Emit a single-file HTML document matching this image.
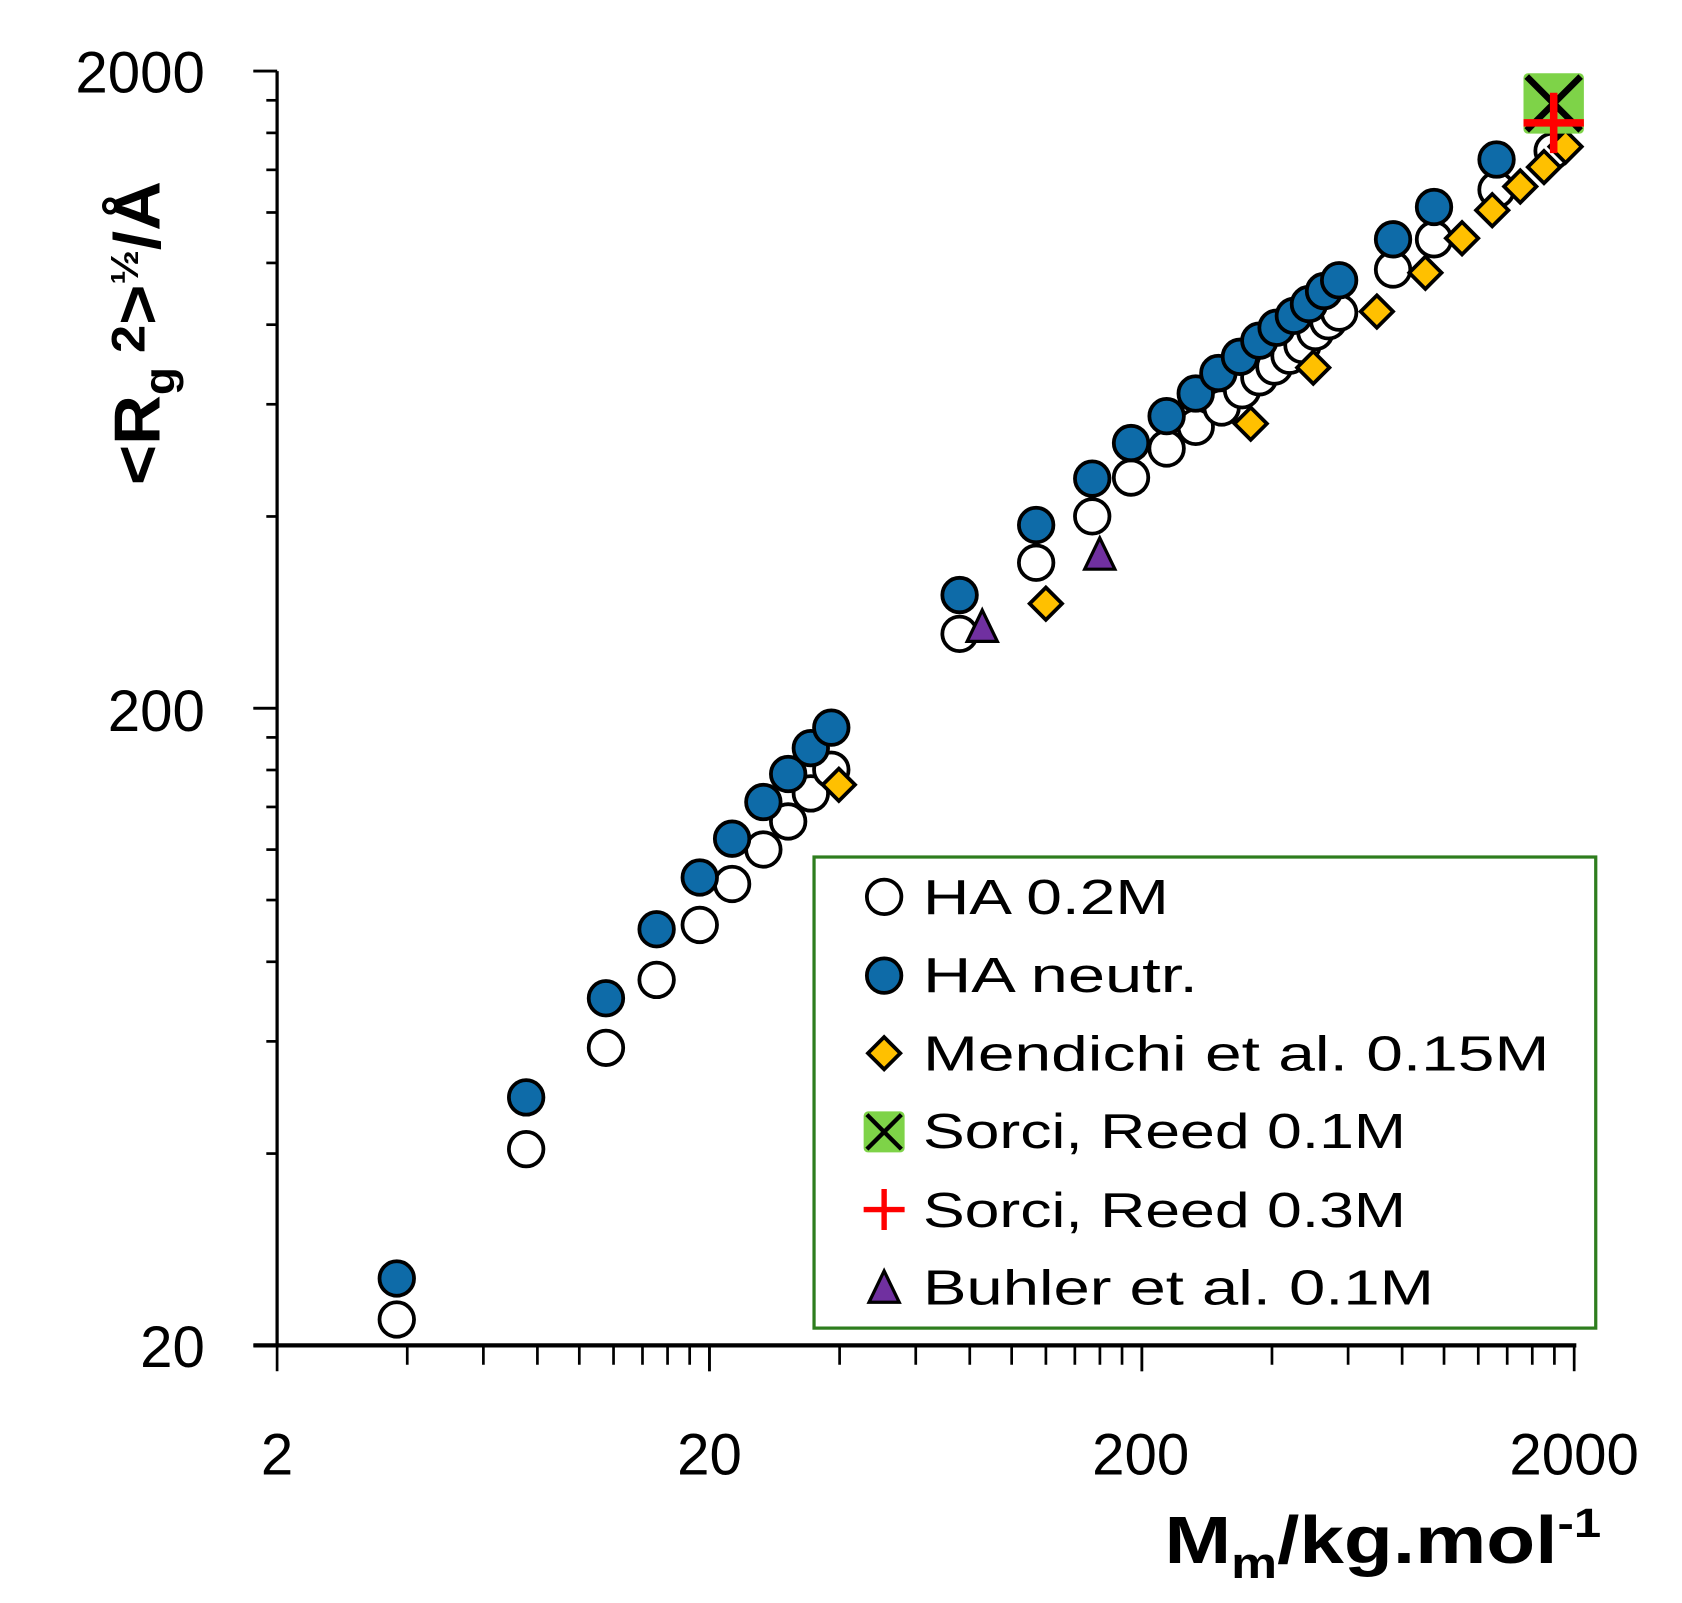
<!DOCTYPE html>
<html><head><meta charset="utf-8"><style>
html,body{margin:0;padding:0;background:#fff;}
svg{display:block;}
</style></head><body>
<svg id="s" width="1682" height="1603" viewBox="0 0 1560 1487" preserveAspectRatio="none" xmlns="http://www.w3.org/2000/svg" font-family="'Liberation Sans', sans-serif">
<rect width="1560" height="1487" fill="#fff"/>
<g id="ticks" stroke="#000" stroke-width="2.5"></g>
<line x1="257" y1="66" x2="257" y2="1250" stroke="#000" stroke-width="3"/>
<line x1="235" y1="1248" x2="1462" y2="1248" stroke="#000" stroke-width="4"/>
<g font-size="54" fill="#000" text-anchor="end">
<text x="190" y="86">2000</text>
<text x="190" y="678">200</text>
<text x="190" y="1268">20</text>
</g>
<g font-size="54" fill="#000" text-anchor="middle">
<text x="257" y="1368">2</text>
<text x="658" y="1368">20</text>
<text x="1058" y="1368">200</text>
<text x="1460" y="1368">2000</text>
</g>
<text x="1080" y="1450" font-size="62" font-weight="bold" textLength="405" lengthAdjust="spacingAndGlyphs">M<tspan font-size="40" dy="14">m</tspan><tspan dy="-14">/kg.mol</tspan><tspan font-size="38" dy="-24">-1</tspan></text>
<text transform="translate(148,450) rotate(-90)" font-size="60" font-weight="bold" textLength="282" lengthAdjust="spacingAndGlyphs">&lt;R<tspan font-size="40" dy="14">g</tspan><tspan font-size="44" dy="-28"> 2</tspan><tspan dy="14">&gt;</tspan><tspan font-size="36" dy="-20">½</tspan><tspan dy="20">/Å</tspan></text>
<g id="pts"></g>
<rect x="755" y="795" width="725" height="437" fill="#fff" stroke="#2e7d1e" stroke-width="3"/>
<g id="leg"></g>
<g font-size="46" fill="#000">
<text x="856" y="848" textLength="228" lengthAdjust="spacingAndGlyphs">HA 0.2M</text>
<text x="856" y="920" textLength="255" lengthAdjust="spacingAndGlyphs">HA neutr.</text>
<text x="856" y="993" textLength="581" lengthAdjust="spacingAndGlyphs">Mendichi et al. 0.15M</text>
<text x="856" y="1065" textLength="448" lengthAdjust="spacingAndGlyphs">Sorci, Reed 0.1M</text>
<text x="856" y="1138" textLength="448" lengthAdjust="spacingAndGlyphs">Sorci, Reed 0.3M</text>
<text x="856" y="1210" textLength="474" lengthAdjust="spacingAndGlyphs">Buhler et al. 0.1M</text>
</g>
</svg>
<script>
var NS="http://www.w3.org/2000/svg";
function el(p,t,a){var e=document.createElementNS(NS,t);for(var k in a)e.setAttribute(k,a[k]);p.appendChild(e);return e;}
var T=document.getElementById('ticks');
for(var d=0;d<3;d++){for(var m=1;m<=10;m++){
 var v=Math.log10(m);
 var x=257+401*(d+v);
 el(T,'line',{x1:x,y1:1248,x2:x,y2:(m==1||m==10)?1272:1266});
 var y=1248-591*(d+v);
 el(T,'line',{x1:257,y1:y,x2:(m==1||m==10)?235:247,y2:y});
}}
var P=document.getElementById('pts');
var open=[[368,1224],[488,1066],[562,972],[609,909],[649,858],[679,820],[708,788],[731,762],[752,736],[771,714],[890,588],[961,522],[1013,479],[1049,443],[1082,416],[1109,396],[1133,378],[1152,362],[1168,350],[1182,340],[1196,330],[1208,320],[1220,308],[1232,298],[1242,290],[1292,250],[1330,222],[1388,176],[1440,140]];
var fill=[[368,1186],[488,1018],[562,926],[609,862],[649,814],[679,778],[708,744],[731,718],[752,694],[771,675],[890,552],[961,487],[1013,444],[1049,411],[1082,386],[1109,365],[1130,346],[1150,331],[1168,316],[1184,304],[1200,293],[1214,282],[1228,270],[1242,260],[1292,222],[1330,192],[1388,148]];
var dia=[[778,728],[970,560],[1160,393],[1218,341],[1277,289],[1322,253],[1356,221],[1384,195],[1410,173],[1432,155],[1452,136]];
var tri=[[911,582],[1020,515]];
function circ(g,x,y,f){el(g,'circle',{cx:x,cy:y,r:16,fill:f,stroke:'#000','stroke-width':3.5});}
function dm(g,x,y){el(g,'polygon',{points:(x)+','+(y-15)+' '+(x+15)+','+y+' '+x+','+(y+15)+' '+(x-15)+','+y,fill:'#ffc000',stroke:'#000','stroke-width':3.5});}
function tr(g,x,y){el(g,'polygon',{points:x+','+(y-16)+' '+(x+14)+','+(y+13)+' '+(x-14)+','+(y+13),fill:'#7030a0',stroke:'#000','stroke-width':3});}
function sq(g,x,y,s){el(g,'rect',{x:x-s,y:y-s,width:2*s,height:2*s,rx:4,fill:'#7ed348'});el(g,'path',{d:'M'+(x-s+3)+' '+(y-s+3)+'L'+(x+s-3)+' '+(y+s-3)+'M'+(x+s-3)+' '+(y-s+3)+'L'+(x-s+3)+' '+(y+s-3),stroke:'#000','stroke-width':s>20?6:4});}
function pl(g,x,y,s){el(g,'path',{d:'M'+(x-s)+' '+y+'L'+(x+s)+' '+y+'M'+x+' '+(y-s)+'L'+x+' '+(y+s),stroke:'#ff0000','stroke-width':s>20?7:5});}
open.forEach(function(p){circ(P,p[0],p[1],'#fff');});
fill.forEach(function(p){circ(P,p[0],p[1],'#0e6ba8');});
dia.forEach(function(p){dm(P,p[0],p[1]);});
tri.forEach(function(p){tr(P,p[0],p[1]);});
sq(P,1441,96,28);pl(P,1441,114,28);
var L=document.getElementById('leg');
circ(L,820,832,'#fff');circ(L,820,905,'#0e6ba8');dm(L,820,977);sq(L,820,1050,19);pl(L,820,1122,19);tr(L,820,1195);
</script>
</body></html>
